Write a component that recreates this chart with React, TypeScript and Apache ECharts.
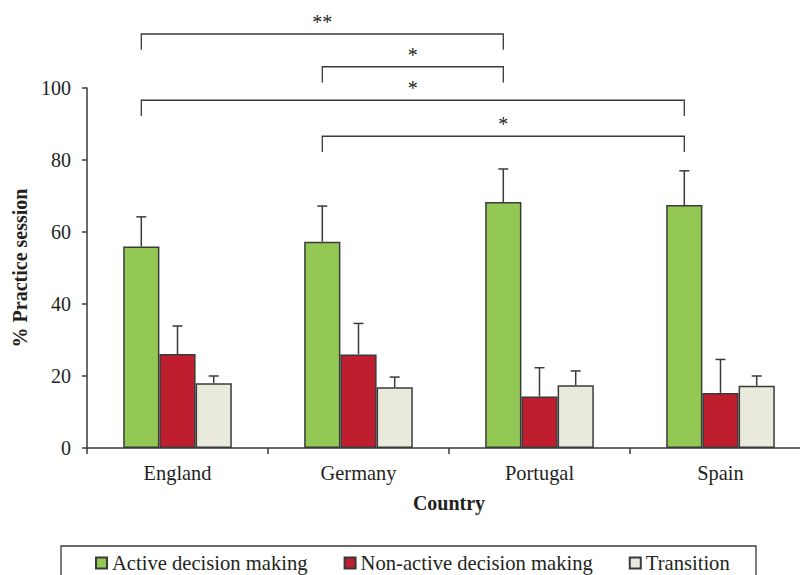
import React, { useEffect, useRef } from "react";
import * as echarts from "echarts";

const countries = ["England", "Germany", "Portugal", "Spain"];
const seriesNames = ["Active decision making", "Non-active decision making", "Transition"];
const activeMean = [56.0, 57.3, 68.3, 67.5];
const activeSD = [8.2, 9.9, 9.2, 9.5];
const nonActiveMean = [26.1, 26.0, 14.3, 15.3];
const nonActiveSD = [7.8, 8.6, 8.0, 9.3];
const transitionMean = [18.0, 16.9, 17.4, 17.3];
const transitionSD = [2.0, 2.8, 4.0, 2.7];
const yTicks = [0, 20, 40, 60, 80, 100];

// significance brackets: from category index, to category index, level (% units), label
const bracketFrom = [0, 1, 0, 1];
const bracketTo = [2, 2, 3, 3];
const bracketLevel = [115.0, 105.9, 96.6, 86.6];
const bracketLabel = ["**", "*", "*", "*"];
const bracketLeg = 4.4;

const colors = ["#94c855", "#be1e2d", "#eaeadc"];
const SERIF = "'Liberation Serif', 'Times New Roman', serif";
const INK = "#3a3a3a";

export default function App() {
  const ref = useRef<HTMLDivElement>(null);
  useEffect(() => {
    if (!ref.current) return;
    const chart = echarts.init(ref.current, undefined, { renderer: "svg" });
    const means = [activeMean, nonActiveMean, transitionMean];
    const sds = [activeSD, nonActiveSD, transitionSD];
    const errData: number[][] = [];
    means.forEach((m, s) => m.forEach((v, c) => errData.push([c, v, s, sds[s][c]])));
    const brData = bracketFrom.map((f, i) => [f, bracketLevel[i], bracketTo[i], i]);

    chart.setOption({
      animation: false,
      grid: { left: 87, width: 724, top: 88, height: 360, containLabel: false, outerBoundsMode: "none" },
      xAxis: {
        type: "category",
        data: countries,
        name: "Country",
        nameLocation: "middle",
        nameGap: 45,
        nameTextStyle: { fontFamily: SERIF, fontWeight: "bold", fontSize: 20, color: "#231f20" },
        axisLine: { lineStyle: { color: INK, width: 1.5 } },
        axisTick: { show: true, length: 6, lineStyle: { color: INK, width: 1.5 } },
        axisLabel: { fontFamily: SERIF, fontSize: 20.4, color: "#231f20", margin: 15 },
      },
      yAxis: {
        type: "value",
        min: 0,
        max: 100,
        interval: 20,
        name: "% Practice session",
        nameLocation: "middle",
        nameGap: 57,
        nameTextStyle: { fontFamily: SERIF, fontWeight: "bold", fontSize: 20, color: "#231f20" },
        axisLine: { show: true, lineStyle: { color: INK, width: 1.5 } },
        axisTick: { show: true, length: 5, lineStyle: { color: INK, width: 1.5 } },
        axisLabel: {
          fontFamily: SERIF,
          fontSize: 20,
          color: "#231f20",
          margin: 16,
          formatter: (v: number) => (yTicks.includes(v) ? String(v) : ""),
        },
        splitLine: { show: false },
      },
      legend: {
        left: 95,
        top: 552,
        padding: 0,
        itemWidth: 11,
        itemHeight: 11,
        itemGap: 36,
        icon: "rect",
        textStyle: { fontFamily: SERIF, fontSize: 20.6, lineHeight: 22, color: "#231f20" },
        data: seriesNames,
      },
      graphic: [
        {
          type: "rect",
          shape: { x: 61, y: 546, width: 695, height: 60 },
          style: { fill: "none", stroke: INK, lineWidth: 1.3 },
        },
      ],
      series: [
        ...means.map((m, s) => ({
          name: seriesNames[s],
          type: "bar",
          data: m,
          barWidth: "20%",
          barGap: "0%",
          itemStyle: { color: colors[s], borderColor: INK, borderWidth: 1.5 },
        })),
        {
          type: "custom",
          clip: false,
          z: 3,
          silent: true,
          data: errData,
          encode: { x: 0, y: 1 },
          renderItem: (params: any, api: any) => {
            const c = api.value(0);
            const mean = api.value(1);
            const s = api.value(2);
            const sd = api.value(3);
            const bw = api.size([1, 0])[0] * 0.2;
            const p0 = api.coord([c, mean]);
            const p1 = api.coord([c, mean + sd]);
            const x = p0[0] + (s - 1) * bw;
            return {
              type: "group",
              children: [
                { type: "line", shape: { x1: x, y1: p0[1], x2: x, y2: p1[1] }, style: { stroke: INK, lineWidth: 1.5 } },
                { type: "line", shape: { x1: x - 5, y1: p1[1], x2: x + 5, y2: p1[1] }, style: { stroke: INK, lineWidth: 1.5 } },
              ],
            };
          },
        },
        {
          type: "custom",
          clip: false,
          z: 3,
          silent: true,
          data: brData,
          encode: { x: 0, y: 1 },
          renderItem: (params: any, api: any) => {
            const f = api.value(0);
            const lvl = api.value(1);
            const t = api.value(2);
            const idx = api.value(3);
            const bw = api.size([1, 0])[0] * 0.2;
            const pa = api.coord([f, lvl]);
            const pb = api.coord([t, lvl]);
            const pl = api.coord([f, lvl - bracketLeg]);
            const x0 = pa[0] - bw;
            const x1 = pb[0] - bw;
            return {
              type: "group",
              children: [
                {
                  type: "polyline",
                  shape: { points: [[x0, pl[1]], [x0, pa[1]], [x1, pa[1]], [x1, pl[1]]] },
                  style: { stroke: INK, lineWidth: 1.3, fill: "none" },
                },
                {
                  type: "text",
                  x: (x0 + x1) / 2,
                  y: pa[1] - 2,
                  style: {
                    text: bracketLabel[idx],
                    fontFamily: SERIF,
                    fontSize: 20,
                    fill: "#231f20",
                    align: "center",
                    verticalAlign: "bottom",
                  },
                },
              ],
            };
          },
        },
      ],
    });
    return () => chart.dispose();
  }, []);
  return (
    <div
      ref={ref}
      style={{ position: "fixed", left: 0, top: 0, width: 800, height: 575, background: "#fff" }}
    />
  );
}
